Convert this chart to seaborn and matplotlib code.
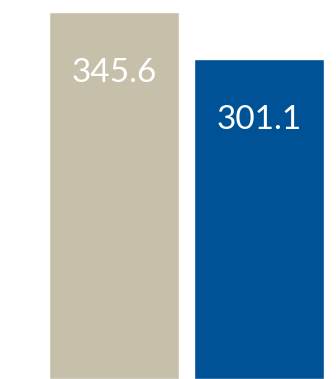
import matplotlib
matplotlib.use("Agg")
import matplotlib.pyplot as plt
import seaborn as sns
import pandas as pd

categories = ["A", "B"]
values = [345.6, 301.1]
labels = ["345.6", "301.1"]
colors = ["#C6C0AA", "#005296"]

sns.set_style("white")
plt.rcParams['font.family'] = ['Lato', 'DejaVu Sans']

df = pd.DataFrame({"cat": categories, "val": values})
fig = plt.figure(figsize=(3.36, 3.79), dpi=100)
ax = fig.add_axes([0, 0, 1, 1])
sns.barplot(data=df, x="cat", y="val", hue="cat", palette=colors, width=0.897,
            legend=False, ax=ax, saturation=1)
ax.set_xlim(-0.786, 1.531)
ax.set_ylim(0, 356.9)
ax.axis("off")
for i, (v, t) in enumerate(zip(values, labels)):
    ax.annotate(t, xy=(i, v), xytext=(0, -44), textcoords="offset points",
                ha="center", va="center", color="white", fontsize=24)
fig.savefig("out.png", dpi=100)
